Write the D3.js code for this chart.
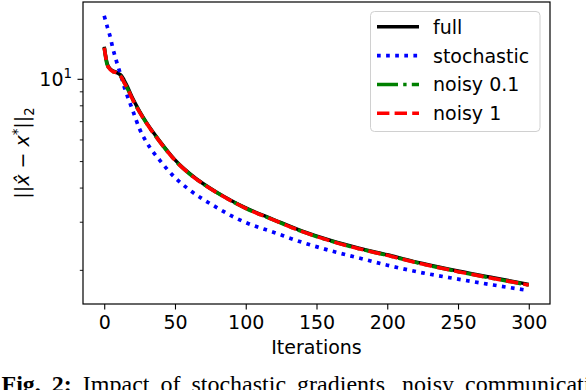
<!DOCTYPE html>
<html>
<head>
<meta charset="utf-8">
<script src="https://cdn.jsdelivr.net/npm/d3@7"></script>
<style>
  body { margin: 0; background: #fff; }
  svg { display: block; }
  text { font-family: "DejaVu Sans", sans-serif; fill: #000; }
</style>
</head>
<body>
<svg id="chart" width="586" height="390"></svg>
<script>
var iters = [0, 2, 4, 6, 8, 10, 12, 14, 16, 20, 25, 30, 40, 50, 60, 70, 80, 90, 100, 120, 140, 160, 180, 200, 225, 250, 275, 300];

var fullVals       = [13.1, 11.4, 10.9, 10.7, 10.6, 10.45, 10.3, 9.9, 9.45, 8.5, 7.6, 6.9, 5.85, 5.05, 4.52, 4.13, 3.83, 3.58, 3.37, 3.05, 2.77, 2.56, 2.4, 2.27, 2.11, 1.98, 1.87, 1.77];
var stochVals      = [17.0, 15.6, 14.4, 13.0, 11.9, 11.0, 10.2, 9.4, 8.75, 7.7, 6.55, 5.85, 4.98, 4.35, 3.93, 3.62, 3.37, 3.15, 2.98, 2.74, 2.52, 2.35, 2.21, 2.08, 1.95, 1.85, 1.76, 1.68];
var noisy01Vals    = [13.0, 11.3, 10.85, 10.65, 10.55, 10.4, 10.15, 9.72, 9.3, 8.42, 7.55, 6.86, 5.82, 5.03, 4.5, 4.12, 3.82, 3.57, 3.36, 3.04, 2.76, 2.55, 2.39, 2.26, 2.1, 1.97, 1.86, 1.76];
var noisy1Vals     = [13.0, 11.35, 10.85, 10.65, 10.55, 10.4, 10.15, 9.7, 9.3, 8.42, 7.55, 6.86, 5.82, 5.03, 4.5, 4.12, 3.82, 3.57, 3.36, 3.04, 2.76, 2.55, 2.39, 2.26, 2.1, 1.97, 1.86, 1.76];

var seriesNames = ['full', 'stochastic', 'noisy 0.1', 'noisy 1'];
var xTicks = [0, 50, 100, 150, 200, 250, 300];
var yMinorTicks = [2, 3, 4, 5, 6, 7, 8, 9];

var fontSize = 19;
// plot box (window.top is reserved, so prefixed names)
var pLeft = 83, pRight = 550, pTop = 2, pBottom = 304;

var styles = [
    {color: '#000000', dash: null, width: 3.5},
    {color: '#0000ff', dash: '3.7,5.4', width: 3.7},
    {color: '#008000', dash: '21,5.2,3.4,5.2', width: 3.6},
    {color: '#ff0000', dash: '12.4,5.2', width: 3.6}
];

var allVals = [fullVals, stochVals, noisy01Vals, noisy1Vals];

var svg = d3.select('#chart');

var x = d3.scaleLinear().domain([-15, 315]).range([pLeft, pRight]);
var y = d3.scaleLog().domain([1.5, 19.1]).range([pBottom, pTop]);

// curves
var line = d3.line()
    .x(function (d) { return x(d[0]); })
    .y(function (d) { return y(d[1]); })
    .curve(d3.curveMonotoneX);

svg.append('defs').append('clipPath').attr('id', 'plotclip')
    .append('rect')
    .attr('x', pLeft).attr('y', pTop)
    .attr('width', pRight - pLeft).attr('height', pBottom - pTop);

var curves = svg.append('g').attr('clip-path', 'url(#plotclip)');

allVals.forEach(function (vals, i) {
    var pts = iters.map(function (it, j) { return [it, vals[j]]; });
    curves.append('path')
        .attr('d', line(pts))
        .style('fill', 'none')
        .style('stroke', styles[i].color)
        .style('stroke-width', styles[i].width)
        .style('stroke-dasharray', styles[i].dash)
        .style('stroke-linejoin', 'round');
});

// x axis
var xAxis = d3.axisBottom(x)
    .tickValues(xTicks)
    .tickSize(5.5)
    .tickPadding(6.5)
    .tickFormat(d3.format('d'));

var gx = svg.append('g')
    .attr('transform', 'translate(0,' + pBottom + ')')
    .call(xAxis);
gx.select('.domain').remove();
gx.selectAll('line').style('stroke', '#000').style('stroke-width', 1.1);
gx.selectAll('text').style('font-size', fontSize + 'px').style('font-family', '"DejaVu Sans", sans-serif').style('fill', '#000');

// y axis (log, only 10^1 labelled)
var yAxis = d3.axisLeft(y)
    .tickValues(yMinorTicks.concat([10]))
    .tickSize(3.2)
    .tickPadding(5.5)
    .tickFormat(function () { return ''; });

var gy = svg.append('g')
    .attr('transform', 'translate(' + pLeft + ',0)')
    .call(yAxis);
gy.select('.domain').remove();
gy.selectAll('line').style('stroke', '#000').style('stroke-width', 0.9);

gy.selectAll('.tick').filter(function (d) { return d === 10; })
    .each(function () {
        var t = d3.select(this);
        t.select('line').attr('x2', -5.5).style('stroke-width', 1.1);
        var txt = t.select('text')
            .attr('x', -11)
            .attr('dy', null)
            .attr('y', 7)
            .style('font-size', fontSize + 'px')
            .style('font-family', '"DejaVu Sans", sans-serif')
            .style('fill', '#000');
        txt.append('tspan').text('10');
        txt.append('tspan').attr('dy', -8).style('font-size', '13.3px').text('1');
    });

// frame
svg.append('rect')
    .attr('x', pLeft).attr('y', pTop)
    .attr('width', pRight - pLeft).attr('height', pBottom - pTop)
    .style('fill', 'none')
    .style('stroke', '#000')
    .style('stroke-width', 1.2);

// axis labels
svg.append('text')
    .attr('x', (pLeft + pRight) / 2)
    .attr('y', 354)
    .attr('text-anchor', 'middle')
    .style('font-size', fontSize + 'px')
    .text('Iterations');

var ylab = svg.append('text')
    .attr('transform', 'translate(29,' + ((pTop + pBottom) / 2) + ') rotate(-90)')
    .attr('text-anchor', 'middle')
    .style('font-size', fontSize + 'px');
ylab.append('tspan').text('||');
ylab.append('tspan').style('font-style', 'italic').text('x\u0302');
ylab.append('tspan').text(' \u2212 ');
ylab.append('tspan').style('font-style', 'italic').text('x');
ylab.append('tspan').attr('dy', -7).style('font-size', '13.3px').text('*');
ylab.append('tspan').attr('dy', 7).text('||');
ylab.append('tspan').attr('dy', 5).style('font-size', '13.3px').text('2');

// legend
var legend = svg.append('g');
legend.append('rect')
    .attr('x', 370.5).attr('y', 11.5)
    .attr('width', 169.5).attr('height', 120)
    .attr('rx', 4)
    .style('fill', '#fff')
    .style('fill-opacity', 0.8)
    .style('stroke', '#d0d0d0')
    .style('stroke-width', 1);

var rowY = d3.scalePoint().domain(seriesNames).range([26.7, 113.3]);

seriesNames.forEach(function (name, i) {
    var yy = rowY(name);
    legend.append('line')
        .attr('x1', 377).attr('x2', 419)
        .attr('y1', yy).attr('y2', yy)
        .style('stroke', styles[i].color)
        .style('stroke-width', styles[i].width)
        .style('stroke-dasharray', styles[i].dash);
    legend.append('text')
        .attr('x', 433)
        .attr('y', yy + 7)
        .style('font-size', fontSize + 'px')
        .text(name);
});

// caption (cut off at the bottom and right edge, as in the figure)
var cap = svg.append('text')
    .attr('x', 1.5)
    .attr('y', 392)
    .style('font-size', '24px')
    .style('word-spacing', '5px')
    .style('font-family', '"Liberation Serif", "Times New Roman", serif');
cap.append('tspan').style('font-weight', 'bold').text('Fig. 2:');
cap.append('tspan').text(' Impact of stochastic gradients, noisy communication');
</script>
</body>
</html>
